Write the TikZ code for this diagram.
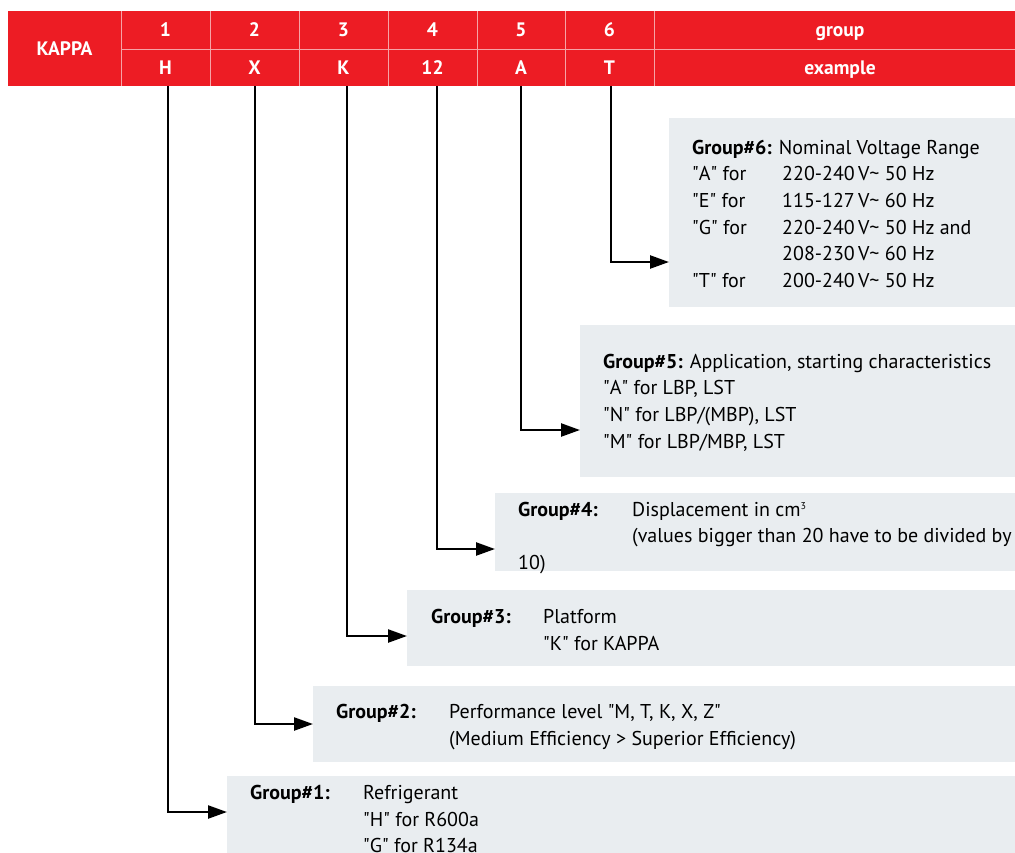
\documentclass[tikz,border=0pt]{standalone}
\usepackage{fontspec}
\setmainfont{PT Sans}
\usetikzlibrary{arrows.meta}
\definecolor{kred}{HTML}{ED1C24}
\definecolor{kgray}{HTML}{E9EDF0}
\definecolor{ksep}{HTML}{F6A3A6}
\newcommand\vt{\textasciitilde}
\newcommand\qq[1]{\textquotedbl#1\textquotedbl}
\begin{document}
\begin{tikzpicture}[x=1pt,y=-1pt,
  hdr/.style={fill=kred, text=white, inner sep=0pt, text height=13.6pt, text depth=0pt,
    font=\bfseries\fontsize{19.5}{21}\selectfont},
  gbox/.style={fill=kgray, inner sep=0pt},
  txt/.style={anchor=base west, inner sep=0pt, font=\fontsize{20}{24}\selectfont},
  conn/.style={line width=2.4pt, -{Triangle[length=19pt,width=13pt]}},
  sepl/.style={draw=ksep, line width=0.9pt}]
\useasboundingbox (0,0) rectangle (1015,852);
% header
\node[hdr, minimum width=113pt, minimum height=75pt] (kappa) at (64.5,48.5) {KAPPA};
\node[hdr, minimum width=89pt, minimum height=38pt] (n1) at (165.5,30) {1};
\node[hdr, minimum width=89pt, minimum height=38pt] (n2) at (254.5,30) {2};
\node[hdr, minimum width=89pt, minimum height=38pt] (n3) at (343.5,30) {3};
\node[hdr, minimum width=89pt, minimum height=38pt] (n4) at (432.5,30) {4};
\node[hdr, minimum width=88pt, minimum height=38pt] (n5) at (521,30) {5};
\node[hdr, minimum width=89pt, minimum height=38pt] (n6) at (609.5,30) {6};
\node[hdr, minimum width=372pt, minimum height=38pt] (ng) at (840,30) {group};
\node[hdr, minimum width=89pt, minimum height=37pt] (c1) at (165.5,67.5) {H};
\node[hdr, minimum width=89pt, minimum height=37pt] (c2) at (254.5,67.5) {X};
\node[hdr, minimum width=89pt, minimum height=37pt] (c3) at (343.5,67.5) {K};
\node[hdr, minimum width=89pt, minimum height=37pt] (c4) at (432.5,67.5) {12};
\node[hdr, minimum width=88pt, minimum height=37pt] (c5) at (521,67.5) {A};
\node[hdr, minimum width=89pt, minimum height=37pt] (c6) at (609.5,67.5) {T};
\node[hdr, minimum width=372pt, minimum height=37pt] (ce) at (840,67.5) {example};
% separators
\draw[sepl] (kappa.north east) -- (kappa.south east);
\draw[sepl] (n1.north east) -- (c1.south east);
\draw[sepl] (n2.north east) -- (c2.south east);
\draw[sepl] (n3.north east) -- (c3.south east);
\draw[sepl] (n4.north east) -- (c4.south east);
\draw[sepl] (n5.north east) -- (c5.south east);
\draw[sepl] (n6.north east) -- (c6.south east);
\draw[sepl] (n1.south west) -- (ng.south east);
% boxes
\node[gbox, minimum width=360pt, minimum height=189pt, anchor=north west] (g6) at (669,118) {};
\node[gbox, minimum width=450pt, minimum height=152pt, anchor=north west] (g5) at (580,325) {};
\node[gbox, minimum width=535pt, minimum height=78pt, anchor=north west] (g4) at (495,493) {};
\node[gbox, minimum width=620pt, minimum height=76pt, anchor=north west] (g3) at (407,590) {};
\node[gbox, minimum width=715pt, minimum height=76pt, anchor=north west] (g2) at (313,686) {};
\node[gbox, minimum width=800pt, minimum height=90pt, anchor=north west] (g1) at (227,776) {};
% texts group 6
\node[txt] (t61) at (692,154) {\textbf{Group\#6:} Nominal Voltage Range};
\node[txt] (t62) at (692,180.5) {\qq{A} for};
\node[txt] (v62) at (782,180.5) {220-240\,V\vt{} 50 Hz};
\node[txt] (t63) at (692,207) {\qq{E} for};
\node[txt] (v63) at (782,207) {115-127\,V\vt{} 60 Hz};
\node[txt] (t64) at (692,234) {\qq{G} for};
\node[txt] (v64) at (782,234) {220-240\,V\vt{} 50 Hz and};
\node[txt] (v65) at (782,260.5) {208-230\,V\vt{} 60 Hz};
\node[txt] (t66) at (692,287.5) {\qq{T} for};
\node[txt] (v66) at (782,287.5) {200-240\,V\vt{} 50 Hz};
% group 5
\node[txt] (t51) at (603,368) {\textbf{Group\#5:} Application, starting characteristics};
\node[txt] (t52) at (603,394.5) {\qq{A} for LBP, LST};
\node[txt] (t53) at (603,421) {\qq{N} for LBP/(MBP), LST};
\node[txt] (t54) at (603,448) {\qq{M} for LBP/MBP, LST};
% group 4
\node[txt] (t41) at (518,516) {\textbf{Group\#4:}};
\node[txt] (v41) at (632,516) {Displacement in cm\raisebox{7pt}{\fontsize{10}{10}\selectfont 3}};
\node[txt] (v42) at (632,542.5) {(values bigger than 20 have to be divided by};
\node[txt] (t43) at (518,569.5) {10)};
% group 3
\node[txt] (t31) at (431,623.5) {\textbf{Group\#3:}};
\node[txt] (v31) at (543,623.5) {Platform};
\node[txt] (v32) at (543,650.5) {\qq{K} for KAPPA};
% group 2
\node[txt] (t21) at (336,718.5) {\textbf{Group\#2:}};
\node[txt] (v21) at (449,718.5) {Performance level \qq{M, T, K, X, Z}};
\node[txt] (v22) at (449,745.5) {(Medium Efficiency > Superior Efficiency)};
% group 1
\node[txt] (t11) at (250,799.5) {\textbf{Group\#1:}};
\node[txt] (v11) at (363,799.5) {Refrigerant};
\node[txt] (v12) at (363,826.5) {\qq{H} for R600a};
\node[txt] (v13) at (363,852.5) {\qq{G} for R134a};
% arrow targets
\coordinate (a6) at (g6.west |- 0,262);
\coordinate (a5) at (g5.west |- 0,430);
\coordinate (a4) at (g4.west |- 0,549);
\coordinate (a3) at (g3.west |- 0,636);
\coordinate (a2) at (g2.west |- 0,724);
\coordinate (a1) at (g1.west |- 0,812);
% connectors
\draw[conn] ([xshift=1.5pt]c6.south) |- (a6);
\draw[conn] (c5.south) |- (a5);
\draw[conn] ([xshift=4.5pt]c4.south) |- (a4);
\draw[conn] ([xshift=3.5pt]c3.south) |- (a3);
\draw[conn] ([xshift=0.5pt]c2.south) |- (a2);
\draw[conn] ([xshift=2.5pt]c1.south) |- (a1);
\end{tikzpicture}
\end{document}
